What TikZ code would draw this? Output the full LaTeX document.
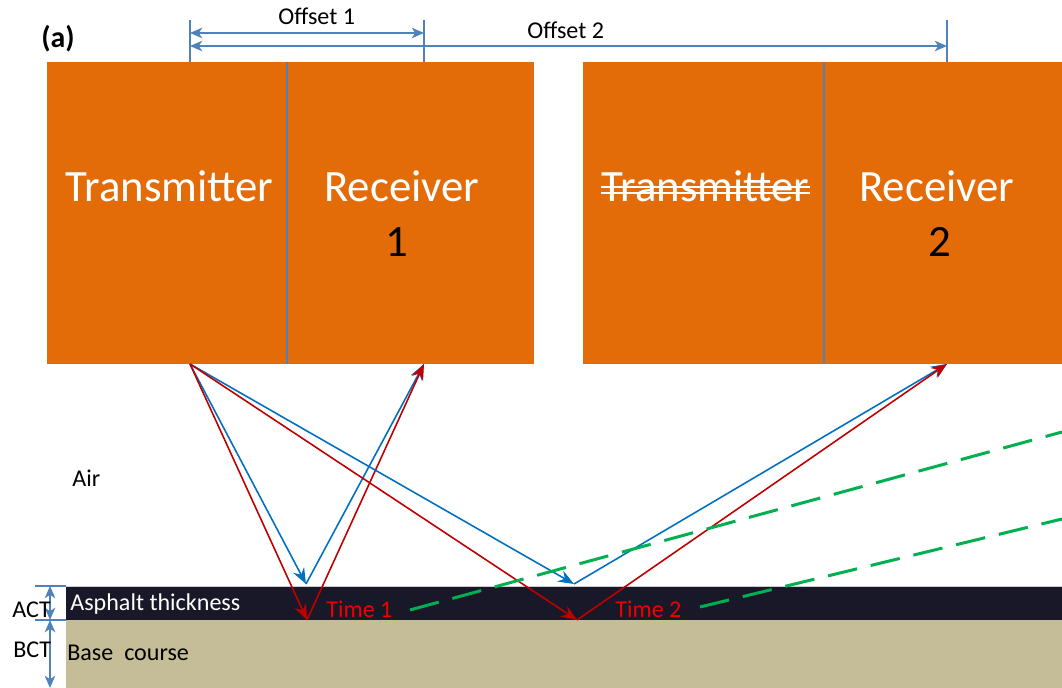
\documentclass[tikz,border=0pt]{standalone}
\usepackage{fontspec}
\setmainfont{Carlito}
\usetikzlibrary{arrows.meta}
\definecolor{gprorange}{HTML}{E36C09}
\definecolor{asphalt}{HTML}{181828}
\definecolor{basecourse}{HTML}{C4BD97}
\definecolor{dimblue}{HTML}{4F81BD}
\definecolor{rayblue}{HTML}{0070C0}
\definecolor{rayred}{HTML}{C00000}
\definecolor{timered}{HTML}{F00000}
\definecolor{directgreen}{HTML}{00B050}
\tikzset{
  lbl/.style={anchor=base west,inner sep=0pt},
  big/.style={lbl,font=\fontsize{25.5}{30}\selectfont},
  small/.style={lbl,font=\fontsize{13.7}{16}\selectfont},
  dim/.style={draw=dimblue,line width=0.9pt},
  dimarrow/.style={dim,{Stealth[length=7pt,width=6pt,inset=2pt]}-{Stealth[length=7pt,width=6pt,inset=2pt]}},
  ray/.style={line width=0.9pt,-{Stealth[length=9pt,width=7pt,inset=3pt]}},
  direct/.style={directgreen,line width=1.7pt,dash pattern=on 17pt off 8pt},
}
\begin{document}
\begin{tikzpicture}[x=0.02cm,y=-0.02cm]
  \useasboundingbox (0,0) rectangle (1062,688);
  % pavement layers
  \fill[asphalt] (66,586) rectangle (1062,620);
  \fill[basecourse] (66,620) rectangle (1062,688);
  \draw[gray!40,line width=0.4pt] (66,586) -- (1062,586);
  % antenna boxes
  \fill[gprorange] (47,62) rectangle (534,364);
  \fill[gprorange] (583,62) rectangle (1062,364);
  \foreach \x in {287,824}
    \draw[dim] (\x,62) -- (\x,364);
  \node[big,white] (tx1) at (65,202) {Transmitter};
  \node[big,white] (rx1) at (324,202) {Receiver};
  \node[big] (n1) at (385,257) {1};
  \node[big,white] (tx2) at (601,202) {Transmitter};
  \foreach \y in {187,193}
    \draw[white,line width=1pt] (601,\y) -- (810,\y);
  \node[big,white] (rx2) at (859,202) {Receiver};
  \node[big] (n2) at (928,257) {2};
  % offsets
  \node[lbl,font=\fontsize{17}{20}\selectfont\bfseries] (tag) at (41,48) {(a)};
  \foreach \x in {190,424,947}
    \draw[dim] (\x,20) -- (\x,62);
  \draw[dimarrow] (190,33) -- (424,33);
  \draw[dimarrow] (190,46) -- (947,46);
  \node[small] (off1) at (278,25) {Offset 1};
  \node[small] (off2) at (527,39) {Offset 2};
  % thickness marks
  \foreach \y in {586,620}
    \draw[dim] (35,\y) -- (66,\y);
  \draw[dimarrow] (50,586) -- (50,620);
  \draw[dimarrow] (50,620) -- (50,688);
  \node[small] (act) at (12,618) {ACT};
  \node[small] (bct) at (13,658) {BCT};
  \node[small] (air) at (72,487) {Air};
  \node[small,white] (asp) at (70,611) {Asphalt thickness};
  \node[small] (base) at (67,661) {Base~~course};
  % ray paths
  \coordinate (src) at (190,364);
  \coordinate (rx1pt) at (424,364);
  \coordinate (rx2pt) at (947,364);
  \coordinate (top1) at (306,584);
  \coordinate (bot1) at (307,620);
  \coordinate (top2) at (574,584);
  \coordinate (bot2) at (577,620);
  \foreach \a/\b/\c in {top1/rx1pt/rayblue,bot1/rx1pt/rayred,top2/rx2pt/rayblue,bot2/rx2pt/rayred} {
    \draw[ray,\c] (src) -- (\a);
    \draw[ray,\c] (\a) -- (\b);
  }
  \draw[direct] (410,610) -- (1062,432);
  \draw[direct] (700,607) -- (1062,519);
  \node[small,timered] (t1) at (326,618) {Time 1};
  \node[small,timered] (t2) at (615,618) {Time 2};
\end{tikzpicture}
\end{document}
